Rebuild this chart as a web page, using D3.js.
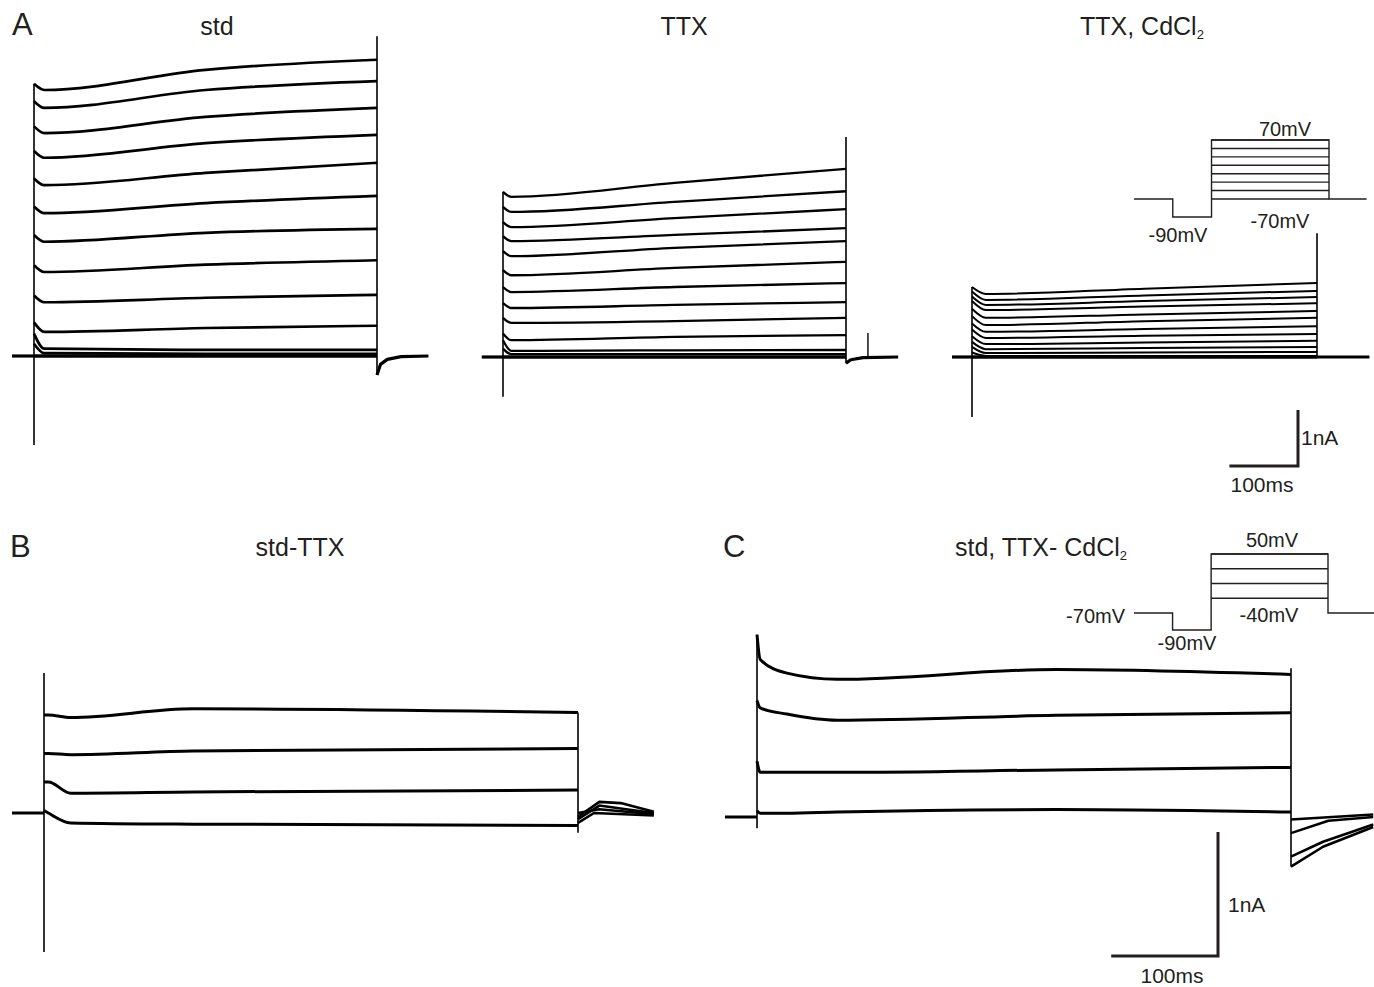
<!DOCTYPE html>
<html>
<head>
<meta charset="utf-8">
<script src="https://cdn.jsdelivr.net/npm/d3@7"></script>
<style>
  body { margin: 0; background: #fff; }
  svg { display: block; }
  text { font-family: "Liberation Sans", Arial, sans-serif; fill: #231f20; }
</style>
</head>
<body>
<div id="chart"></div>
<script>
// step length in ms, currents in nA
var stepEnd = 500;

// A, std : value of every sweep at stdTimes
var stdTimes = [0, 15, 250, 500];
var stdSweeps = [
  [4.86, 4.75, 5.11, 5.29],
  [4.55, 4.43, 4.75, 4.91],
  [4.10, 3.98, 4.27, 4.43],
  [3.66, 3.54, 3.80, 3.95],
  [3.17, 3.05, 3.27, 3.45],
  [2.67, 2.55, 2.73, 2.86],
  [2.16, 2.04, 2.20, 2.27],
  [1.62, 1.50, 1.63, 1.71],
  [1.08, 0.96, 1.04, 1.09],
  [0.60, 0.43, 0.50, 0.54],
  [0.40, 0.13, 0.11, 0.11],
  [0.22, 0.05, 0.04, 0.04],
  [0, 0, 0, 0]
];
var stdOnset = [-1.59, 4.86];
var stdOffset = [-0.34, 5.71];
var stdTails = [[[500, -0.34], [505, -0.15], [515, -0.06], [535, -0.01], [575, 0]]];

// A, TTX
var ttxTimes = [0, 12, 250, 500];
var ttxSweeps = [
  [2.95, 2.86, 3.11, 3.36],
  [2.68, 2.59, 2.77, 2.96],
  [2.41, 2.32, 2.48, 2.64],
  [2.16, 2.07, 2.18, 2.30],
  [1.89, 1.80, 1.95, 2.07],
  [1.55, 1.46, 1.59, 1.70],
  [1.25, 1.16, 1.25, 1.32],
  [0.96, 0.875, 0.93, 0.98],
  [0.70, 0.61, 0.64, 0.70],
  [0.42, 0.30, 0.36, 0.39],
  [0.30, 0.11, 0.12, 0.125],
  [0.15, 0.05, 0.05, 0.05],
  [0, 0, 0, 0]
];
var ttxOnset = [-0.71, 2.95];
var ttxOffset = [-0.11, 3.93];
var ttxTails = [[[500, -0.11], [507, -0.05], [525, -0.01], [576, 0]]];
var ttxArtifact = [532, 0.43];

// A, TTX + CdCl2
var cdTimes = [0, 20, 250, 500];
var cdSweeps = [
  [1.25, 1.125, 1.22, 1.32],
  [1.17, 1.02, 1.10, 1.18],
  [1.08, 0.93, 1.00, 1.07],
  [1.00, 0.84, 0.90, 0.96],
  [0.86, 0.70, 0.76, 0.82],
  [0.73, 0.57, 0.64, 0.70],
  [0.60, 0.45, 0.50, 0.55],
  [0.49, 0.34, 0.38, 0.41],
  [0.37, 0.23, 0.26, 0.29],
  [0.27, 0.14, 0.16, 0.18],
  [0.18, 0.07, 0.08, 0.09],
  [0.08, 0.02, 0.02, 0.02],
  [0, 0, 0, 0]
];
var cdOnset = [-1.07, 1.25];
var cdOffset = [0, 2.21];
var cdTails = [[[500, 0], [576, 0]]];

// B, std - TTX
var bTimes = [0, 4, 25, 140, 500];
var bSweeps = [
  [0.79, 0.79, 0.77, 0.84, 0.81],
  [0.48, 0.48, 0.47, 0.50, 0.52],
  [0.25, 0.25, 0.16, 0.17, 0.185],
  [0.02, 0.0, -0.08, -0.09, -0.10]
];
var bOnset = [-1.12, 1.13];
var bOffset = [-0.16, 0.81];
var bTails = [
  [[500, -0.03], [520, 0.09], [540, 0.08], [571, 0.01]],
  [[500, -0.05], [520, 0.06], [545, 0.03], [571, 0.0]],
  [[500, 0.0], [520, 0.03], [571, -0.01]],
  [[500, -0.08], [515, 0.0], [571, -0.02]]
];

// C, std, TTX - CdCl2
var cTimes = [0, 3, 28, 75, 280, 500];
var cSweeps = [
  [1.47, 1.27, 1.16, 1.11, 1.19, 1.15],
  [0.94, 0.88, 0.83, 0.78, 0.82, 0.84],
  [0.45, 0.36, 0.36, 0.36, 0.38, 0.40],
  [0.05, 0.03, 0.03, 0.04, 0.06, 0.04]
];
var cOnset = [-0.09, 1.47];
var cOffset = [-0.40, 1.20];
var cTails = [
  [[500, -0.02], [577, 0.02]],
  [[500, -0.13], [535, -0.03], [577, 0.0]],
  [[500, -0.32], [530, -0.20], [577, -0.06]],
  [[500, -0.40], [530, -0.24], [577, -0.08]]
];

// voltage protocols (mV), segment edges in ms
var protoTimes = [-330, -165, 0, 500];
var protoAHold = -70, protoAPre = -90;
var protoASteps = [-70, -50, -30, -10, 10, 30, 50, 70];
var protoCHold = -70, protoCPre = -90;
var protoCSteps = [-40, -10, 20, 50];

var svg = d3.select("#chart").append("svg")
    .attr("width", 1374)
    .attr("height", 987);

function drawTraces(p) {
    var x = d3.scaleLinear().domain([0, stepEnd]).range(p.xr);
    var y = d3.scaleLinear().domain([0, 1]).range([p.y0, p.y0 - p.pxPerNA]);
    var line = d3.line().x(function(d) { return x(d[0]); }).y(function(d) { return y(d[1]); });
    var g = svg.append("g").attr("fill", "none").attr("stroke", "#000")
        .attr("stroke-linejoin", "round");

    // holding current before the step
    g.append("path").attr("d", line([[p.tmin, 0], [0, 0]])).attr("stroke-width", 3.2);
    // tail currents after it
    p.tails.forEach(function(t) {
        g.append("path").attr("d", line(t)).attr("stroke-width", p.tailW);
    });
    // capacity transients at on and off
    g.append("path").attr("d", line([[0, p.onset[0]], [0, p.onset[1]]])).attr("stroke-width", 1.6);
    g.append("path").attr("d", line([[stepEnd, p.offset[0]], [stepEnd, p.offset[1]]])).attr("stroke-width", 1.6);

    var sweepLine = d3.line().curve(d3.curveMonotoneX)
        .x(function(d, i) { return x(p.times[i]); })
        .y(function(d) { return y(d); });
    g.selectAll(null)
        .data(p.sweeps)
        .enter()
        .append("path")
        .attr("d", sweepLine)
        .attr("stroke-width", function(d, i) { return i == p.sweeps.length - 1 && p.sweeps.length > 4 ? 3.4 : p.w; });
    return {x: x, y: y, line: line, g: g};
}

var pStd = drawTraces({xr: [34, 377], y0: 356, pxPerNA: 56, tmin: -32, times: stdTimes, sweeps: stdSweeps,
    onset: stdOnset, offset: stdOffset, tails: stdTails, w: 2.7, tailW: 3.2});
var pTtx = drawTraces({xr: [503, 846], y0: 357, pxPerNA: 56, tmin: -31, times: ttxTimes, sweeps: ttxSweeps,
    onset: ttxOnset, offset: ttxOffset, tails: ttxTails, w: 2.3, tailW: 3.2});
var pCd = drawTraces({xr: [972, 1317], y0: 357, pxPerNA: 56, tmin: -29, times: cdTimes, sweeps: cdSweeps,
    onset: cdOnset, offset: cdOffset, tails: cdTails, w: 2, tailW: 3.2});
var pB = drawTraces({xr: [44, 578], y0: 813, pxPerNA: 124, tmin: -30, times: bTimes, sweeps: bSweeps,
    onset: bOnset, offset: bOffset, tails: bTails, w: 3, tailW: 2.6});
var pC = drawTraces({xr: [757, 1291], y0: 817, pxPerNA: 124, tmin: -30, times: cTimes, sweeps: cSweeps,
    onset: cOnset, offset: cOffset, tails: cTails, w: 3, tailW: 2.6});

// small artifact after the TTX step
pTtx.g.append("path")
    .attr("d", pTtx.line([[ttxArtifact[0], 0], ttxArtifact]))
    .attr("stroke-width", 1.4);

// scale bars, 100 ms and 1 nA
function scaleBar(sc, cx, cy, labelNA, labelMS) {
    var w = sc.x(100) - sc.x(0), h = sc.y(0) - sc.y(1);
    svg.append("path")
        .attr("d", "M" + (cx - w) + "," + cy + "H" + cx + "V" + (cy - h))
        .attr("fill", "none").attr("stroke", "#231f20").attr("stroke-width", 3);
    svg.append("text").attr("x", labelNA[0]).attr("y", labelNA[1]).attr("font-size", 21).text("1nA");
    svg.append("text").attr("x", labelMS[0]).attr("y", labelMS[1]).attr("font-size", 21)
        .attr("text-anchor", "middle").text("100ms");
}
scaleBar(pStd, 1298, 466, [1301, 445], [1262, 492]);
scaleBar(pC, 1218, 956, [1228, 912], [1172, 983]);

// voltage protocol insets
function protocol(xr, yd, yr, hold, pre, steps, tEnd) {
    var x = d3.scaleLinear().domain([protoTimes[0], protoTimes[3]]).range(xr);
    var y = d3.scaleLinear().domain(yd).range(yr);
    var line = d3.line().x(function(d) { return x(d[0]); }).y(function(d) { return y(d[1]); });
    var top = d3.max(steps), t = protoTimes;
    var g = svg.append("g").attr("fill", "none").attr("stroke", "#231f20").attr("stroke-width", 1.4);
    g.append("path").attr("d", line([[t[0], hold], [t[1], hold], [t[1], pre], [t[2], pre], [t[2], top],
        [t[3], top], [t[3], hold], [tEnd, hold]]));
    g.selectAll(null).data(steps).enter().append("path")
        .attr("d", function(v) { return line([[t[2], v], [t[3], v]]); });
}
protocol([1134, 1329], [-90, -70, 70], [217, 199, 140], protoAHold, protoAPre, protoASteps, 660);
protocol([1134, 1328], [-90, -70, 50], [630, 613, 554], protoCHold, protoCPre, protoCSteps, 710);

function label(x, y, s, anchor, size) {
    return svg.append("text").attr("x", x).attr("y", y)
        .attr("font-size", size || 20)
        .attr("text-anchor", anchor || "middle")
        .text(s);
}
label(1285, 136, "70mV");
label(1280, 228, "-70mV");
label(1178, 242, "-90mV");
label(1272, 547, "50mV");
label(1269, 622, "-40mV");
label(1125, 623, "-70mV", "end");
label(1187, 650, "-90mV");

// panel letters and titles
label(12, 35, "A", "start", 31);
label(10, 557, "B", "start", 31);
label(723, 557, "C", "start", 31);
label(217, 35, "std", "middle", 25);
label(684, 35, "TTX", "middle", 25);
label(300, 556, "std-TTX", "middle", 25);

function subTitle(x, y, s) {
    var t = label(x, y, s, "start", 25);
    t.append("tspan").attr("font-size", 13).attr("dy", 4).text("2");
}
subTitle(1080, 35, "TTX, CdCl");
subTitle(955, 556, "std, TTX- CdCl");
</script>
</body>
</html>
